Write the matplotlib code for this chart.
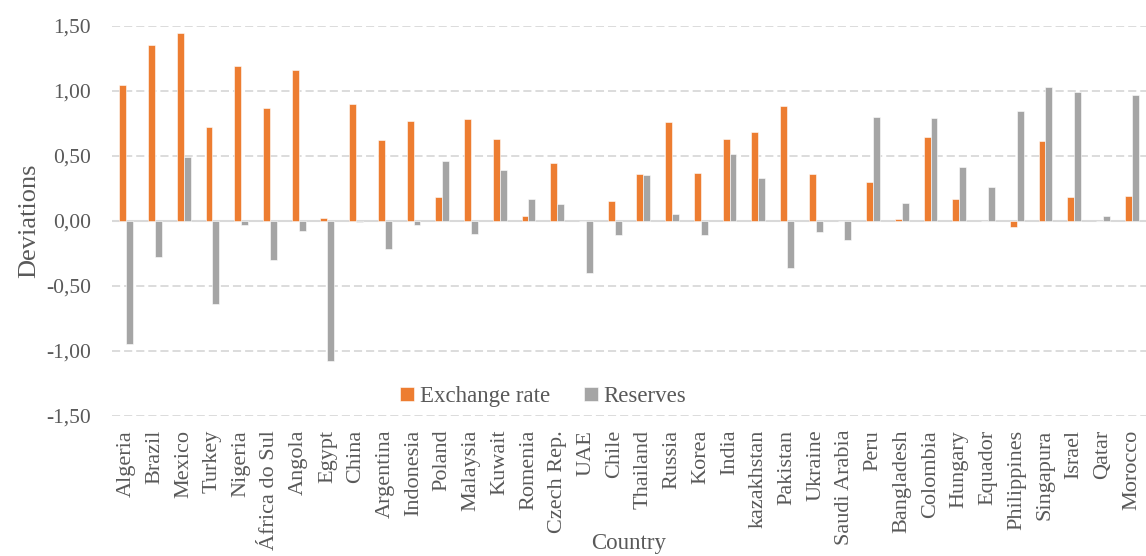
import numpy as np
import matplotlib
matplotlib.use("Agg")
import matplotlib.pyplot as plt
from matplotlib.ticker import FuncFormatter, MultipleLocator

countries = [
    "Algeria", "Brazil", "Mexico", "Turkey", "Nigeria", "África do Sul", "Angola",
    "Egypt", "China", "Argentina", "Indonesia", "Poland", "Malaysia", "Kuwait",
    "Romenia", "Czech Rep.", "UAE", "Chile", "Thailand", "Russia", "Korea", "India",
    "kazakhstan", "Pakistan", "Ukraine", "Saudi Arabia", "Peru", "Bangladesh",
    "Colombia", "Hungary", "Equador", "Philippines", "Singapura", "Israel", "Qatar",
    "Morocco",
]
exchange_rate = [
    1.04, 1.35, 1.44, 0.72, 1.19, 0.87, 1.16,
    0.02, 0.90, 0.62, 0.77, 0.18, 0.78, 0.63,
    0.04, 0.44, 0.00, 0.15, 0.36, 0.76, 0.37, 0.63,
    0.68, 0.88, 0.36, 0.00, 0.30, 0.015,
    0.64, 0.17, 0.00, -0.05, 0.61, 0.18, 0.00,
    0.19,
]
reserves = [
    -0.95, -0.28, 0.49, -0.64, -0.03, -0.30, -0.08,
    -1.08, -0.01, -0.22, -0.03, 0.46, -0.10, 0.39,
    0.17, 0.13, -0.40, -0.11, 0.35, 0.05, -0.11, 0.51,
    0.33, -0.36, -0.09, -0.15, 0.80, 0.14,
    0.79, 0.41, 0.26, 0.84, 1.03, 0.99, 0.04,
    0.97,
]

orange = "#ED7D31"
grey = "#A5A5A5"
text_col = "#595959"

plt.rcParams["font.family"] = ["Liberation Serif", "DejaVu Serif"]

fig = plt.figure(figsize=(11.46, 5.56), dpi=100)
ax = fig.add_axes([0.0977, 0.252, 0.9023, 0.702])

x = np.arange(len(countries))
w = 0.24
ax.bar(x - w / 2, exchange_rate, w, color=orange, edgecolor="white", linewidth=0.4,
       label="Exchange rate", zorder=3)
ax.bar(x + w / 2, reserves, w, color=grey, edgecolor="white", linewidth=0.4,
       label="Reserves", zorder=3)

ax.set_ylim(-1.5, 1.5)
ax.set_xlim(-0.5, len(countries) - 0.5)
ax.yaxis.set_major_locator(MultipleLocator(0.5))
ax.yaxis.set_major_formatter(FuncFormatter(lambda v, p: f"{v:.2f}".replace(".", ",")))
ax.grid(axis="y", color="#D9D9D9", linestyle=(0, (4.5, 2.2)), linewidth=1.3, zorder=0)
ax.axhline(0, color="#D9D9D9", linewidth=1.5, zorder=2)

for s in ax.spines.values():
    s.set_visible(False)

ax.set_xticks(x)
ax.set_xticklabels(countries, rotation=90, fontsize=16, color=text_col)
ax.tick_params(axis="x", length=0, pad=10)
ax.tick_params(axis="y", length=0, pad=15, labelsize=15.5, labelcolor=text_col)

ax.set_ylabel("Deviations", fontsize=19, color=text_col, labelpad=4)
ax.set_xlabel("Country", fontsize=16.5, color=text_col, labelpad=-12)

ax.legend(loc="center", bbox_to_anchor=(0.417, 0.05), ncol=2, frameon=False,
          fontsize=16.5, labelcolor=text_col, handlelength=0.6, handleheight=0.6,
          columnspacing=1.5, handletextpad=0.25)

fig.savefig("out.png", dpi=100)
